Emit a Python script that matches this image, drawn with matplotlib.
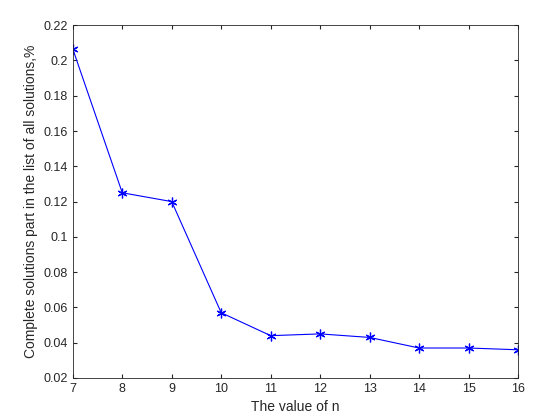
import matplotlib
matplotlib.use("Agg")
import matplotlib.pyplot as plt

plt.rcParams["font.family"] = ["Liberation Sans", "DejaVu Sans"]

n_values = [7, 8, 9, 10, 11, 12, 13, 14, 15, 16]
complete_part = [0.2065, 0.125, 0.120, 0.057, 0.044, 0.045, 0.043, 0.037, 0.037, 0.036]
y_ticks = [0.02, 0.04, 0.06, 0.08, 0.1, 0.12, 0.14, 0.16, 0.18, 0.2, 0.22]
y_labels = ["0.02", "0.04", "0.06", "0.08", "0.1", "0.12", "0.14", "0.16", "0.18", "0.2", "0.22"]

fig = plt.figure(figsize=(5.6, 4.2), dpi=100)
ax = fig.add_axes([0.13, 0.10, 0.795, 0.84])

# MATLAB-style asterisk marker
ax.plot(n_values, complete_part, color="#0000ff", linewidth=0.8,
        marker=(6, 2, 0), markersize=7, markeredgewidth=0.9)

ax.set_xlim(7, 16)
ax.set_ylim(0.02, 0.22)
ax.set_xticks(n_values)
ax.set_yticks(y_ticks)
ax.set_yticklabels(y_labels)
ax.tick_params(direction="in", labelsize=9, colors="#262626", length=3,
               top=True, right=True)
for s in ax.spines.values():
    s.set_color("#262626")
    s.set_linewidth(0.6)

ax.set_xlabel("The value of n", fontsize=10, color="#262626")
ax.set_ylabel("Complete solutions part in the list of all solutions,%", fontsize=10, color="#262626")

fig.savefig("out.png", dpi=100)
